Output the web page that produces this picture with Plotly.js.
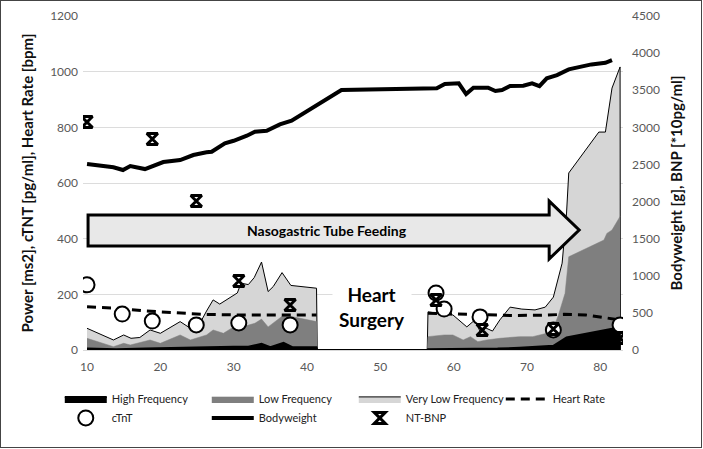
<!DOCTYPE html>
<html><head><meta charset="utf-8">
<script src="https://cdn.plot.ly/plotly-3.0.1.min.js"></script>
<style>
html,body{margin:0;padding:0;background:#fff;}
#chart{position:absolute;left:0;top:0;width:703px;height:449px;}
#frame{position:absolute;left:0;top:0;width:700px;height:446px;border:1px solid #444;pointer-events:none;}
</style></head>
<body><div id="chart"></div><div id="frame"></div>
<script>
// ---- data ----
const xTicks = [10,20,30,40,50,60,70,80];

const vlfDays = [10,13.6,15,16,17.2,18.6,20,22.7,24.1,25.4,26.3,27.2,28.1,29.5,30.5,31,32,32.8,33.8,34.7,35.4,36.6,37.8,41.3,41.4,56.4,56.5,58.7,59.9,61.8,62.9,63.7,64.4,65.3,66.3,67.7,69.3,71.1,72.5,73.6,74.8,75.4,75.7,79.8,80.7,81.6,82.7,82.75];
const vlfTop  = [78,36,54,42,45,72,60,102,78,96,140,180,165,190,205,240,235,260,316,210,228,278,232,222,0,0,137,129,126,83,108,61,79,68,108,154,147,144,154,190,312,492,636,783,783,941,1017,0];

const lfDays = [10,13.6,15,15.9,18.6,20,22.7,24.1,26.3,27.2,28.6,30,31.3,32.9,33.8,34.7,36.3,36.8,41.3,41.4,56.4,56.5,58.7,59.9,61.3,62.3,63.3,64.5,66.3,69,70.8,72.7,73.6,74.3,75.2,75.7,80.5,80.9,81.6,82.7];
const lfTop  = [42,12,24,18,36,24,54,36,54,72,60,83,84,96,111,83,115,126,102,0,0,48,54,54,36,48,30,36,42,48,48,60,78,126,204,335,395,419,431,480];

const hfDays = [10,14,18,22,26,30,32,33.8,35,36.8,38,41.3,41.4,56.4,56.5,60,63,66,69,71,73.6,75.4,78,80.7,82.7];
const hfTop  = [5,3,5,8,10,12,12,22,10,26,10,10,0,0,3,4,3,5,8,12,15,45,58,70,82];

const hrDays = [10,14,18,22,26,30,34,38,41.3,48,56.5,60,64,68,72,75,78,80,82.7];
const hrVals = [155,150,140,133,128,126,126,126,126,null,132,130,126,124,125,128,126,118,108];

const ctntDays = [10,14.8,18.9,24.9,30.7,37.7,57.6,58.7,63.6,73.6,82.7];
const ctntVals = [234,129,104,90,97,90,205,147,119,72,90];

const bwDays = [10,13.6,14.9,15.9,17.9,18.8,20.4,22.7,24.5,26.3,27.0,28.8,30.0,31.8,32.9,34.5,36.3,37.9,44.7,57.7,58.8,60.7,61.7,62.7,64.7,65.7,66.6,67.7,69.5,70.7,71.7,72.7,74.1,75.7,77.3,78.8,80.7,81.6];
const bwVals = [2505,2461,2425,2478,2438,2469,2532,2559,2627,2663,2671,2784,2819,2887,2941,2954,3040,3089,3502,3525,3583,3593,3448,3533,3533,3489,3502,3556,3560,3592,3556,3660,3704,3781,3816,3848,3870,3906];

const bnpDays = [10,18.9,24.9,30.7,37.7,57.6,63.9,73.6,82.7];
const bnpVals = [3071,2842,2007,929,606,673,269,283,162];

const FONT = 'Lato, "Open Sans", sans-serif';

const traces = [
  {name:'Very Low Frequency', x:vlfDays, y:vlfTop, type:'scatter', mode:'lines', fill:'tozeroy',
   fillcolor:'#d6d6d6', line:{color:'#000', width:1}, legendrank:3},
  {name:'Low Frequency', x:lfDays, y:lfTop, type:'scatter', mode:'lines', fill:'tozeroy',
   fillcolor:'#7f7f7f', line:{color:'#7f7f7f', width:0.5}, legendrank:2},
  {name:'High Frequency', x:hfDays, y:hfTop, type:'scatter', mode:'lines', fill:'tozeroy',
   fillcolor:'#000', line:{color:'#000', width:2}, legendrank:1},
  {name:'Heart Rate', x:hrDays, y:hrVals, type:'scatter', mode:'lines', connectgaps:false,
   line:{color:'#000', width:3, dash:'9px,6px'}, legendrank:4},
  {name:'cTnT', x:ctntDays, y:ctntVals, type:'scatter', mode:'markers',
   marker:{symbol:'circle', size:15, color:'#fff', line:{color:'#000', width:2}}, legendrank:5},
  {name:'Bodyweight', x:bwDays, y:bwVals, yaxis:'y2', type:'scatter', mode:'lines',
   line:{color:'#000', width:4}, legendrank:6},
  {name:'NT-BNP', x:bnpDays, y:bnpVals, yaxis:'y2', type:'scatter', mode:'markers',
   marker:{symbol:'hourglass-open', size:11, color:'#000', line:{color:'#000', width:3}}, legendrank:7}
];

const layout = {
  width:703, height:449,
  margin:{l:83, r:80, t:16, b:99, autoexpand:false},
  paper_bgcolor:'#fff', plot_bgcolor:'#fff',
  font:{family:FONT, size:12, color:'#595959'},
  showlegend:true,
  xaxis:{range:[9.45,83.1], tickvals:xTicks, showgrid:false, zeroline:false,
    showline:true, linecolor:'#d9d9d9', linewidth:1, ticks:'', ticklabelstandoff:6,
    tickfont:{family:FONT, size:12, color:'#595959'}},
  yaxis:{range:[0,1200], dtick:200, showgrid:true, gridcolor:'#dcdcdc', gridwidth:1, zeroline:false,
    ticks:'', ticklabelstandoff:4, tickfont:{family:FONT, size:12, color:'#595959'},
    title:{text:'Power [ms2], cTNT [pg/ml], Heart Rate [bpm]', standoff:12,
      font:{family:FONT, size:15, color:'#111', weight:'bold'}}},
  yaxis2:{range:[0,4500], dtick:500, overlaying:'y', side:'right', showgrid:false, zeroline:false,
    ticks:'', ticklabelstandoff:8, tickfont:{family:FONT, size:12, color:'#595959'},
    title:{text:'Bodyweight [g], BNP [*10pg/ml]', standoff:12,
      font:{family:FONT, size:15, color:'#111', weight:'bold'}}},
  legend:{orientation:'h', x:-0.043, xanchor:'left', y:-0.103, yanchor:'top',
    entrywidth:90, entrywidthmode:'pixels', itemwidth:42, traceorder:'normal',
    font:{family:FONT, size:11, color:'#222'}, bgcolor:'rgba(0,0,0,0)'},
  shapes:[
    {type:'path', xref:'x', yref:'y', layer:'above',
     path:'M 10.14 485 L 73.03 485 L 73.03 535 L 77.12 431 L 73.03 327 L 73.03 374 L 10.14 374 Z',
     fillcolor:'#e8e8e8', line:{color:'#000', width:3}}
  ],
  annotations:[
    {x:42.7, y:428, xref:'x', yref:'y', text:'Nasogastric Tube Feeding', showarrow:false,
     font:{family:FONT, size:14, color:'#000', weight:'bold'}},
    {x:48.9, y:155, xref:'x', yref:'y', text:'Heart<br>Surgery', showarrow:false,
     bgcolor:'#fff', borderpad:6, align:'center',
     font:{family:FONT, size:19, color:'#000', weight:'bold'}}
  ]
};

Plotly.newPlot('chart', traces, layout, {displayModeBar:false, staticPlot:true});
</script>
</body></html>
